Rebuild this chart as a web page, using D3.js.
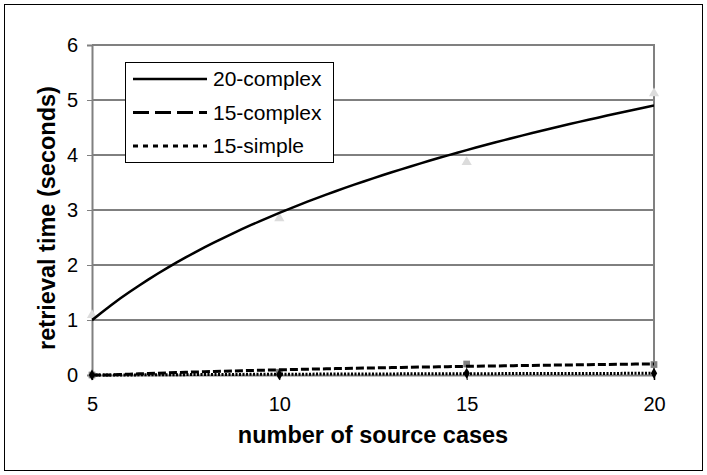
<!DOCTYPE html>
<html><head><meta charset="utf-8">
<script src="https://cdn.jsdelivr.net/npm/d3@7"></script>
<style>body{margin:0;background:#fff}svg{display:block}text{font-family:"Liberation Sans",Arial,sans-serif}</style>
</head><body><svg id="c" width="707" height="475"></svg>
<script>
const xValues = [5, 10, 15, 20];
const seriesNames = ["20-complex", "15-complex", "15-simple"];
const complex20 = [1.09, 2.85, 3.87, 5.12];
const complex15 = [0.0, 0.05, 0.2, 0.19];
const simple15 = [0.0, 0.005, 0.03, 0.03];
const xTicks = [5, 10, 15, 20];
const yTicks = [0, 1, 2, 3, 4, 5, 6];

const svg = d3.select("#c");
const m = {l: 92, r: 654, t: 45, b: 375};
const x = d3.scaleLinear().domain([5, 20]).range([m.l, m.r]);
const y = d3.scaleLinear().domain([0, 6]).range([m.b, m.t]);
const FF = "Liberation Sans, Arial, sans-serif";

// outer frame
svg.append("rect").attr("x", 4.5).attr("y", 4.5).attr("width", 698).attr("height", 466)
  .attr("fill", "none").attr("stroke", "#000").attr("stroke-width", 1);

// gridlines
svg.append("g").selectAll("line").data(yTicks.filter(d => d > 0 && d < 6)).join("line")
  .attr("x1", m.l).attr("x2", m.r).attr("y1", d => y(d)).attr("y2", d => y(d))
  .attr("stroke", "#000").attr("stroke-width", 1);

// plot border (top & right gray)
svg.append("path").attr("d", `M${m.l},${m.t}H${m.r}V${m.b}`).attr("fill", "none")
  .attr("stroke", "#808080").attr("stroke-width", 2);

// axes
const yAxis = d3.axisLeft(y).tickValues(yTicks).tickFormat(d3.format("d")).tickSize(5).tickPadding(9);
const gy = svg.append("g").attr("transform", `translate(${m.l},0)`).call(yAxis);
gy.select(".domain").attr("stroke", "#808080").attr("stroke-width", 2);
gy.selectAll(".tick line").attr("stroke", "#808080");
gy.selectAll("text").attr("font-size", 20).attr("fill", "#000").attr("font-family", FF);

const xAxis = d3.axisBottom(x).tickValues(xTicks).tickSize(5).tickPadding(17);
const gx = svg.append("g").attr("transform", `translate(0,${m.b})`).call(xAxis);
gx.select(".domain").attr("stroke", "#808080").attr("stroke-width", 2);
gx.selectAll(".tick line").attr("stroke", "#000");
gx.selectAll("text").attr("font-size", 20).attr("fill", "#000").attr("font-family", FF);

// logarithmic trend lines (least squares fit of y = a ln x + b)
function logFit(xs, ys) {
  const lx = xs.map(Math.log);
  const mx = d3.mean(lx), my = d3.mean(ys);
  let sxy = 0, sxx = 0;
  lx.forEach((v, i) => { sxy += (v - mx) * (ys[i] - my); sxx += (v - mx) * (v - mx); });
  const a = sxy / sxx, b = my - a * mx;
  return t => a * Math.log(t) + b;
}
const sampleX = d3.range(5, 20.001, 0.25);
const line = d3.line().x(d => x(d[0])).y(d => y(Math.max(0, d[1])));
const dashes = [null, "8,3", "2,1.5"];
const dataSets = [complex20, complex15, simple15];

svg.append("defs").append("clipPath").attr("id", "clip").append("rect")
  .attr("x", m.l).attr("y", m.t - 2).attr("width", m.r - m.l).attr("height", m.b - m.t + 4);

// markers
const tri = d3.symbol().type(d3.symbolTriangle).size(45);
const sq = d3.symbol().type(d3.symbolSquare).size(45);
const dia = d3.symbol().type(d3.symbolDiamond).size(35);
svg.append("g").selectAll("path").data(xValues.map((v, i) => [v, complex20[i]])).join("path")
  .attr("d", tri).attr("transform", d => `translate(${x(d[0])},${y(d[1])})`).attr("fill", "#dcdcdc");
svg.append("g").selectAll("path").data(xValues.map((v, i) => [v, complex15[i]])).join("path")
  .attr("d", sq).attr("transform", d => `translate(${x(d[0])},${y(d[1])})`).attr("fill", "#808080");
svg.append("g").selectAll("path").data(xValues.map((v, i) => [v, simple15[i]])).join("path")
  .attr("d", dia).attr("transform", d => `translate(${x(d[0])},${y(d[1])})`).attr("fill", "#000");

dataSets.forEach((ds, i) => {
  const f = logFit(xValues, ds);
  svg.append("path").datum(sampleX.map(t => [t, f(t)]))
    .attr("d", line).attr("fill", "none").attr("stroke", "#000")
    .attr("stroke-width", i === 0 ? 2.5 : 3).attr("stroke-dasharray", dashes[i])
    .attr("clip-path", "url(#clip)");
});

// legend
const lg = svg.append("g");
lg.append("rect").attr("x", 125.5).attr("y", 62.5).attr("width", 208).attr("height", 100)
  .attr("fill", "#fff").attr("stroke", "#000").attr("stroke-width", 1);
const rows = [79, 112.5, 146];
seriesNames.forEach((n, i) => {
  lg.append("line").attr("x1", 133).attr("x2", 207).attr("y1", rows[i]).attr("y2", rows[i])
    .attr("stroke", "#000").attr("stroke-width", i === 0 ? 2.5 : 3)
    .attr("stroke-dasharray", i === 0 ? null : (i === 1 ? "16,6" : "5,5"));
  lg.append("text").attr("x", 213).attr("y", rows[i] + 7).attr("font-size", 21).text(n);
});

// axis titles
svg.append("text").attr("x", (m.l + m.r) / 2).attr("y", 443).attr("text-anchor", "middle")
  .attr("font-size", 23.5).attr("font-weight", "bold").text("number of source cases");
svg.append("text").attr("transform", `translate(55,${(m.t + m.b) / 2 + 8}) rotate(-90)`)
  .attr("text-anchor", "middle").attr("font-size", 23.5).attr("font-weight", "bold")
  .text("retrieval time (seconds)");
</script></body></html>
